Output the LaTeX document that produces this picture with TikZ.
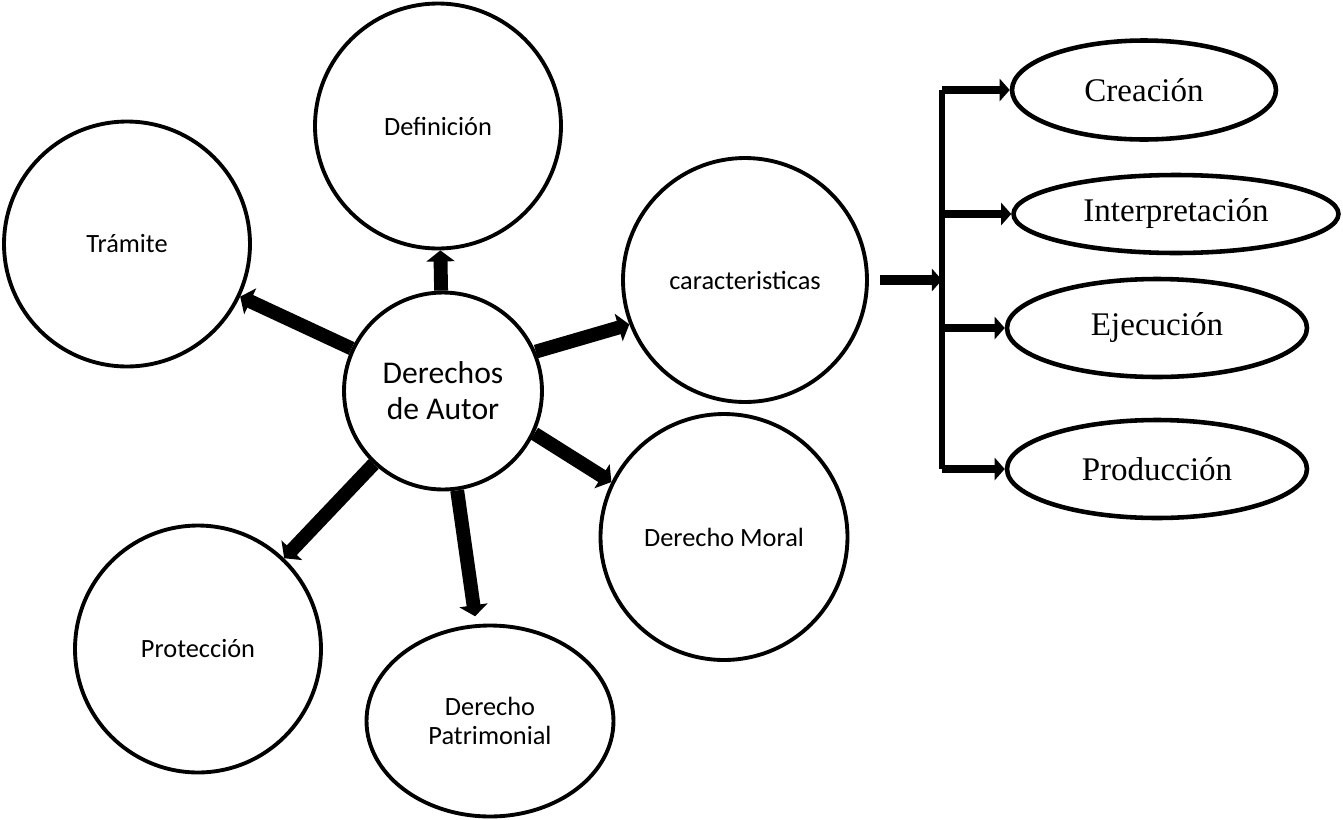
\documentclass[tikz,border=0pt]{standalone}
\usepackage{fontspec}
\setmainfont{Liberation Serif}
\newfontfamily\carlito{Carlito}
\usetikzlibrary{arrows, arrows.meta}
\usetikzlibrary{shapes.geometric}

\tikzset{
	topic/.style={draw, ellipse, line width=2.2pt, inner sep=0pt, align=center, font=\carlito\fontsize{15}{16.2}\selectfont},
	item/.style={draw, ellipse, line width=2.6pt, inner sep=0pt, font=\fontsize{18.8}{20}\selectfont},
	bigarrow/.style={line width=7.9pt, -{Triangle[width=16pt,length=6.3pt]}},
	smallarrow/.style={line width=5pt, -{Triangle[width=12.5pt,length=5.7pt]}}
}

\begin{document}
\begin{tikzpicture}[x=0.02cm, y=-0.02cm]
					\useasboundingbox (0,0) rectangle (1343,819);
					
					%centre
					\node[topic, minimum width=3.96cm, minimum height=3.94cm, font=\carlito\fontsize{18}{20.5}\selectfont] (autor) at (443,391) {Derechos\\de Autor};
					
					%circles round it
					\node[topic, minimum width=4.92cm, minimum height=4.9cm] (def) at (438,126) {Definición};
					\node[topic, minimum width=4.92cm, minimum height=4.9cm] (tram) at (127,244) {Trámite};
					\node[topic, minimum width=4.88cm, minimum height=4.88cm] (carac) at (745,280) {caracteristicas};
					\node[topic, minimum width=4.94cm, minimum height=4.92cm] (moral) at (724,537) {Derecho Moral};
					\node[topic, minimum width=4.92cm, minimum height=4.94cm] (prot) at (198,649) {Protección};
					\node[topic, minimum width=4.94cm, minimum height=3.82cm] (patr) at (490,721) {Derecho\\Patrimonial};
					
					%ellipses
					\node[item, minimum width=5.28cm, minimum height=1.98cm] (crea) at (1144,90) {Creación};
					\node[item, minimum width=6.5cm, minimum height=1.56cm] (interp) at (1176,214) {Interpretación};
					\node[item, minimum width=6cm, minimum height=1.96cm] (ejec) at (1157,328) {Ejecución};
					\node[item, minimum width=6cm, minimum height=1.96cm] (prod) at (1157,469) {Producción};
					
					%arrows from the centre
					\draw[bigarrow] (autor) -- (def);
					\draw[bigarrow] (autor) -- (tram);
					\draw[bigarrow] (autor.23) -- (carac.201);
					\draw[bigarrow] (autor.-25) -- (moral.154);
					\draw[bigarrow] (autor) -- (prot);
					\draw[bigarrow, shorten >=0.16cm] (autor) -- (patr);
					
					%bracket
					\coordinate (bar) at (942,278);
					\draw[line width=3.4pt] (bar |- crea) -- (bar |- prod);
					\draw[smallarrow, line width=5.7pt, shorten <=0.22cm] (carac) -- (carac -| bar);
					\draw[smallarrow] (bar |- crea) -- (crea);
					\draw[smallarrow] (bar |- interp) -- (interp);
					\draw[smallarrow] (bar |- ejec) -- (ejec);
					\draw[smallarrow] (bar |- prod) -- (prod);
				\end{tikzpicture}
\end{document}
